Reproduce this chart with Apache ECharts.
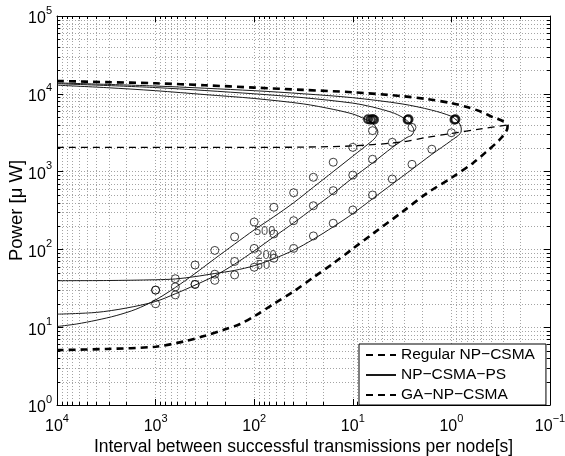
<!DOCTYPE html>
<html><head><meta charset="utf-8">
<script src="https://cdn.jsdelivr.net/npm/echarts@6/dist/echarts.min.js"></script>
<style>html,body{margin:0;padding:0;background:#fff}#c{width:565px;height:456px}</style>
</head><body><div id="c"></div>
<script>
// ---- axis ranges / ticks ----
const xRange = [0.1, 10000];
const yRange = [1, 100000];
const minorMult = [2, 3, 4, 5, 6, 7, 8, 9];
const xDecades = [0.1, 1, 10, 100, 1000];
const yDecades = [1, 10, 100, 1000, 10000];

// ---- analytic curves [interval s, power uW] ----
const regularNP = [[10000,2050],[100,2050],[31.6,2065],[10,2140],[3.16,2400],[1.78,2750],[1.0,3090],[0.501,3550],[0.269,3980]];
const gaNP = [[10000,14620],[3162,14130],[1000,13650],[316,12880],[100,12020],[31.6,11220],[10,10470],[3.16,9330],[1.78,8570],[1.0,7590],[0.695,6760],[0.501,5890],[0.38,5010],[0.302,4470],[0.269,3980],
  [0.275,3390],[0.324,2570],[0.447,1780],[0.603,1290],[1.0,832],[1.78,525],[3.16,302],[6.31,158],[10,102],[15.8,66.1],[25.1,43.7],[39.8,28.8],[63.1,20],[100,13.8],[139,11],[200,9.33],[316,7.76],[501,6.61],[1000,5.62],[3162,5.25],[10000,5.08]];
const ps500 = [[10000,12900],[3162,12000],[1000,10960],[316,9770],[100,8710],[31.6,7410],[15.8,6310],[10,5500],[7.94,4900],[6.31,4170],[5.75,3630],[5.56,3240],
  [5.89,2750],[6.31,2510],[10,1580],[15.8,1000],[25.1,631],[39.8,398],[63.1,263],[100,178],[158,117],[251,76],[398,49],[631,32.4],[1000,22.4],[1585,17],[2512,14.1],[3981,12.3],[6310,11.0],[10000,10.2]];
const ps200 = [[10000,13490],[1000,12020],[100,10000],[31.6,8910],[10,7590],[6.31,6760],[3.98,5750],[3.16,5010],[2.63,4170],[2.40,3390],
  [2.51,2950],[2.82,2750],[3.98,2040],[6.31,1290],[10,832],[15.8,525],[25.1,339],[39.8,219],[63.1,145],[100,95.5],[158,64.6],[251,45.7],[398,34.7],[631,26.9],[1000,21.4],[1995,17.6],[3981,15.5],[10000,14.7]];
const ps50 = [[10000,13800],[1000,12590],[100,10960],[31.6,10000],[10,8910],[3.16,7410],[1.585,6170],[1.0,5130],[0.871,4470],[0.813,3980],[0.794,3550],
  [0.813,3090],[1.0,2510],[1.585,1660],[2.51,1070],[3.98,692],[6.31,447],[10,288],[15.8,195],[25.1,135],[39.8,97.7],[63.1,75.9],[100,61.7],[158,53.7],[251,49],[398,44.7],[631,41.7],[1000,40.7],[3162,39.8],[10000,39.6]];

// ---- simulation points ----
const simX = [1000, 631, 398, 251, 158, 100, 63.1, 39.8, 25.1, 15.8, 10, 6.31, 3.98, 2.51, 1.58, 1.0];
const sim500 = [30, 42, 63, 97, 145, 225, 348, 535, 845, 1320, 2050, 3360];
const sim200 = [20, 26, 35.5, 48, 70, 103, 158, 234, 364, 569, 903, 1440, 2380, 3700];
const sim50 = [30, 33, 35.5, 40, 47, 59, 77, 103, 149, 217, 321, 500, 803, 1240, 1940, 3160];
const simUnstable = [[7.0,4700],[6.6,4650],[6.3,4750],[6.1,4650],[2.78,4650],[2.72,4720],[0.93,4650],[0.91,4720]];

const curveLabels = [[78.2,169,'500'],[75.9,84.7,'200'],[81.3,63,'50']];
const legendNames = ['Regular NP\u2212CSMA', 'NP\u2212CSMA\u2212PS', 'GA\u2212NP\u2212CSMA'];

const FONT = '"Liberation Sans", Arial, Helvetica, sans-serif';
const minorX = [], minorY = [];
xDecades.forEach(d => minorMult.forEach(m => minorX.push(+(d * m).toPrecision(3))));
yDecades.forEach(d => minorMult.forEach(m => minorY.push(+(d * m).toPrecision(3))));

function pts(xs, ys) { return ys.map((y, i) => [xs[i], y]); }
function powLabel(v) {
  const e = Math.round(Math.log10(v));
  return '{b|10}{e|' + (e < 0 ? '\u2212' + (-e) : e) + '}';
}
const rich = {
  b: {fontSize: 16, fontFamily: FONT, color: '#000', lineHeight: 22, verticalAlign: 'bottom'},
  e: {fontSize: 11, fontFamily: FONT, color: '#000', lineHeight: 12, verticalAlign: 'top'}
};
const crisp = v => Math.round(v) + 0.5;
const GRID = '#a4a4a4';

function vGrid(params, api) {
  const v = api.value(0);
  const p0 = api.coord([v, yRange[0]]), p1 = api.coord([v, yRange[1]]);
  const x = crisp(p0[0]);
  return {type: 'group', children: [
    {type: 'line', shape: {x1: x, y1: p0[1], x2: x, y2: p1[1]}, style: {stroke: GRID, lineWidth: 1, lineDash: [1, 2]}},
    {type: 'line', shape: {x1: x, y1: p0[1], x2: x, y2: p0[1] - 3}, style: {stroke: '#000', lineWidth: 1}},
    {type: 'line', shape: {x1: x, y1: p1[1], x2: x, y2: p1[1] + 3}, style: {stroke: '#000', lineWidth: 1}}
  ]};
}
function hGrid(params, api) {
  const v = api.value(1);
  const p0 = api.coord([xRange[1], v]), p1 = api.coord([xRange[0], v]);
  const y = crisp(p0[1]);
  return {type: 'group', children: [
    {type: 'line', shape: {x1: p0[0], y1: y, x2: p1[0], y2: y}, style: {stroke: GRID, lineWidth: 1, lineDash: [1, 2]}},
    {type: 'line', shape: {x1: p0[0], y1: y, x2: p0[0] + 3, y2: y}, style: {stroke: '#000', lineWidth: 1}},
    {type: 'line', shape: {x1: p1[0], y1: y, x2: p1[0] - 3, y2: y}, style: {stroke: '#000', lineWidth: 1}}
  ]};
}

function xAxisCfg(pos) {
  return {
    type: 'log', logBase: 10, min: xRange[0], max: xRange[1], inverse: true, position: pos,
    splitNumber: 5,
    axisLine: {show: true, onZero: false, lineStyle: {color: '#000', width: 1}},
    axisTick: {show: true, inside: true, length: 6, lineStyle: {color: '#000'}},
    axisLabel: pos === 'bottom' ? {show: true, margin: 8, formatter: powLabel, rich: rich} : {show: false},
    splitLine: {show: pos === 'bottom', lineStyle: {color: GRID, type: [1, 2]}},
    name: pos === 'bottom' ? 'Interval between successful transmissions per node[s]' : '',
    nameLocation: 'middle', nameGap: 33.5, nameMoveOverlap: false,
    nameTextStyle: {fontSize: 17.5, fontFamily: FONT, color: '#000'}
  };
}
function yAxisCfg(pos) {
  return {
    type: 'log', logBase: 10, min: yRange[0], max: yRange[1], position: pos,
    splitNumber: 5,
    axisLine: {show: true, onZero: false, lineStyle: {color: '#000', width: 1}},
    axisTick: {show: true, inside: true, length: 6, lineStyle: {color: '#000'}},
    axisLabel: pos === 'left' ? {show: true, margin: 5, formatter: powLabel, rich: rich} : {show: false},
    splitLine: {show: pos === 'left', lineStyle: {color: GRID, type: [1, 2]}},
    name: pos === 'left' ? 'Power [\u03bc W]' : '',
    nameLocation: 'middle', nameGap: 31, nameMoveOverlap: false,
    nameTextStyle: {fontSize: 18.5, fontFamily: FONT, color: '#000'}
  };
}

function curve(name, data, style) {
  return {type: 'line', name: name, data: data, symbol: 'none', showSymbol: false, smooth: 0.3,
    lineStyle: style, itemStyle: {color: style.color}, z: 4, silent: true};
}
const solid = {color: '#1a1a1a', width: 1, type: 'solid'};
const circleStyle = {color: 'transparent', borderColor: '#111', borderWidth: 1};

const chart = echarts.init(document.getElementById('c'), null, {renderer: 'canvas'});
chart.setOption({
  animation: false,
  backgroundColor: '#fff',
  textStyle: {fontFamily: FONT},
  grid: {left: 57, right: 15, top: 16, bottom: 51, containLabel: false, outerBoundsMode: 'none'},
  xAxis: [xAxisCfg('bottom'), xAxisCfg('top')],
  yAxis: [yAxisCfg('left'), yAxisCfg('right')],
  legend: {
    data: legendNames, orient: 'vertical', left: 359, top: 344,
    backgroundColor: '#fff', borderColor: '#000', borderWidth: 1, borderRadius: 0,
    padding: [3, 11, 2, 6], itemGap: 4, itemWidth: 30, itemHeight: 14, itemTextGap: 7,
    itemStyle: {opacity: 0},
    textStyle: {fontSize: 15.5, fontFamily: FONT, color: '#000'}, selectedMode: false
  },
  series: [
    {type: 'custom', coordinateSystem: 'cartesian2d', silent: true, z: 1, clip: false, renderItem: vGrid, data: minorX.map(v => [v, 10])},
    {type: 'custom', coordinateSystem: 'cartesian2d', silent: true, z: 1, clip: false, renderItem: hGrid, data: minorY.map(v => [1, v])},
    curve(legendNames[0], regularNP, {color: '#000', width: 1.3, type: [7, 5]}),
    curve(legendNames[1], ps500, solid),
    curve(legendNames[1], ps200, solid),
    curve(legendNames[1], ps50, solid),
    curve(legendNames[2], gaNP, {color: '#000', width: 2.6, type: [7, 5]}),
    {type: 'scatter', name: 'sim500', data: pts(simX, sim500), symbol: 'circle', symbolSize: 8, itemStyle: circleStyle, z: 5, silent: true},
    {type: 'scatter', name: 'sim200', data: pts(simX, sim200), symbol: 'circle', symbolSize: 8, itemStyle: circleStyle, z: 5, silent: true},
    {type: 'scatter', name: 'sim50', data: pts(simX, sim50), symbol: 'circle', symbolSize: 8, itemStyle: circleStyle, z: 5, silent: true},
    {type: 'scatter', name: 'simUnstable', data: simUnstable, symbol: 'circle', symbolSize: 8, itemStyle: {color: 'transparent', borderColor: '#000', borderWidth: 2}, z: 5, silent: true},
    {type: 'scatter', name: 'labels', data: curveLabels, symbolSize: 1, itemStyle: {color: 'transparent'}, z: 6, silent: true,
      label: {show: true, position: 'inside', formatter: p => p.data[2], fontSize: 13, fontFamily: FONT, color: '#333'}}
  ]
});
</script></body></html>
